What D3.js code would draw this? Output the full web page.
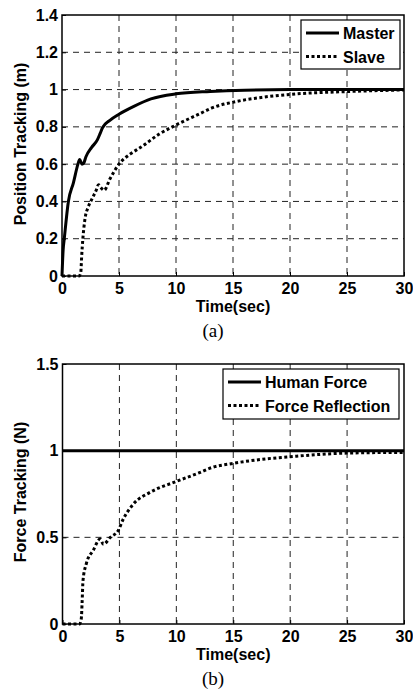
<!DOCTYPE html>
<html>
<head>
<meta charset="utf-8">
<script src="https://cdn.jsdelivr.net/npm/d3@7"></script>
<style>
body { margin: 0; background: #fff; }
</style>
</head>
<body>
<script>
// tick labels
var timeTicks = [0, 5, 10, 15, 20, 25, 30];
var posTicks = [0, 0.2, 0.4, 0.6, 0.8, 1, 1.2, 1.4];
var forceTicks = [0, 0.5, 1, 1.5];

// (a) position tracking
var masterT = [0, 0.1, 0.2, 0.56, 1.0, 1.4, 1.55, 1.75, 1.9, 2.1, 2.6, 3.1, 3.35, 3.55, 4.2, 5, 6.3, 7.8, 10, 13, 16, 20, 30];
var masterY = [0, 0.14, 0.2, 0.4, 0.5, 0.6, 0.625, 0.6, 0.605, 0.64, 0.69, 0.73, 0.765, 0.795, 0.835, 0.868, 0.91, 0.95, 0.977, 0.99, 0.997, 1.0, 1.0];
var slaveT = [0, 1.5, 1.65, 1.72, 1.83, 2.0, 2.3, 2.6, 3.0, 3.2, 3.4, 3.7, 4.2, 5, 6, 6.9, 8.5, 10, 12.25, 13.1, 15.2, 17.5, 20.2, 25.3, 30];
var slaveY = [0, 0, 0.02, 0.1, 0.2, 0.3, 0.37, 0.41, 0.46, 0.49, 0.475, 0.46, 0.52, 0.6, 0.655, 0.69, 0.76, 0.81, 0.875, 0.9, 0.935, 0.958, 0.975, 0.99, 0.998];

// (b) force tracking
var humanT = [0, 30];
var humanY = [1, 1];
var reflT = [0, 1.5, 1.65, 1.72, 1.8, 2.1, 2.7, 3.3, 3.6, 4.2, 4.9, 5.3, 6.2, 7.7, 9.9, 12.1, 13, 15, 17.5, 20, 25, 30];
var reflY = [0, 0, 0.03, 0.12, 0.25, 0.35, 0.425, 0.49, 0.46, 0.5, 0.54, 0.6, 0.69, 0.76, 0.82, 0.875, 0.9, 0.927, 0.95, 0.965, 0.986, 0.99];

var width = 413;
var height = 693;
var sans = "Liberation Sans, Arial, sans-serif";

var svg = d3.select("body").append("svg")
    .attr("width", width)
    .attr("height", height);

function zip(t, y) {
    return t.map(function(d, i) { return [d, y[i]]; });
}

function drawPanel(opt) {
    var x = d3.scaleLinear().domain([0, 30]).range([opt.left, opt.right]);
    var y = d3.scaleLinear().domain(opt.yDomain).range([opt.bottom, opt.top]);
    var g = svg.append("g");

    // grid
    g.selectAll("line.vgrid")
        .data(timeTicks.slice(1, -1))
        .enter()
        .append("line")
        .attr("x1", function(d) { return x(d); })
        .attr("x2", function(d) { return x(d); })
        .attr("y1", opt.top)
        .attr("y2", opt.bottom)
        .attr("stroke", "#222")
        .attr("stroke-width", 1)
        .attr("stroke-dasharray", "6,5");
    g.selectAll("line.hgrid")
        .data(opt.yTicks.slice(1, -1))
        .enter()
        .append("line")
        .attr("x1", opt.left)
        .attr("x2", opt.right)
        .attr("y1", function(d) { return y(d); })
        .attr("y2", function(d) { return y(d); })
        .attr("stroke", "#222")
        .attr("stroke-width", 1)
        .attr("stroke-dasharray", "6,5");

    // axes
    var xAxis = d3.axisBottom(x).tickValues(timeTicks).tickSize(-4).tickPadding(7).tickFormat(d3.format("d"));
    var yAxis = d3.axisLeft(y).tickValues(opt.yTicks).tickSize(-4).tickPadding(4).tickFormat(function(d) { return d; });
    var gx = g.append("g").attr("transform", "translate(0," + opt.bottom + ")").call(xAxis);
    var gy = g.append("g").attr("transform", "translate(" + opt.left + ",0)").call(yAxis);
    [gx, gy].forEach(function(a) {
        a.select(".domain").remove();
        a.selectAll("text").attr("font-size", "16px").attr("fill", "#000")
            .attr("font-family", sans).attr("font-weight", "bold");
        a.selectAll("line").attr("stroke", "#000");
    });

    // curves
    var line = d3.line()
        .x(function(d) { return x(d[0]); })
        .y(function(d) { return y(d[1]); })
        .curve(d3.curveMonotoneX);
    opt.series.forEach(function(s) {
        g.append("path")
            .datum(zip(s.t, s.y))
            .attr("d", line)
            .attr("fill", "none")
            .attr("stroke", "#000")
            .attr("stroke-width", 3)
            .attr("stroke-dasharray", s.dotted ? "3,2.5" : null);
    });

    // box
    g.append("rect")
        .attr("x", opt.left)
        .attr("y", opt.top)
        .attr("width", opt.right - opt.left)
        .attr("height", opt.bottom - opt.top)
        .attr("fill", "none")
        .attr("stroke", "#000")
        .attr("stroke-width", 1.5);

    // legend
    var lg = opt.legend;
    g.append("rect")
        .attr("x", lg.x)
        .attr("y", lg.y)
        .attr("width", lg.w)
        .attr("height", lg.h)
        .attr("fill", "#fff")
        .attr("stroke", "#000")
        .attr("stroke-width", 1.2);
    opt.series.forEach(function(s, i) {
        var ly = lg.y + 13 + i * 23.5;
        g.append("line")
            .attr("x1", lg.x + 5)
            .attr("x2", lg.x + 38)
            .attr("y1", ly)
            .attr("y2", ly)
            .attr("stroke", "#000")
            .attr("stroke-width", 3)
            .attr("stroke-dasharray", s.dotted ? "3,2.5" : null);
        g.append("text")
            .attr("x", lg.x + 42)
            .attr("y", ly + 6)
            .attr("font-size", "16px")
            .attr("font-family", sans)
            .attr("font-weight", "bold")
            .text(s.name);
    });

    // labels
    g.append("text")
        .attr("x", (opt.left + opt.right) / 2)
        .attr("y", opt.bottom + 36)
        .attr("text-anchor", "middle")
        .attr("font-size", "16px")
        .attr("font-family", sans)
        .attr("font-weight", "bold")
        .text("Time(sec)");
    g.append("text")
        .attr("transform", "translate(26," + opt.labelY + ") rotate(-90)")
        .attr("text-anchor", "middle")
        .attr("font-size", "16px")
        .attr("font-family", sans)
        .attr("font-weight", "bold")
        .text(opt.yLabel);
    g.append("text")
        .attr("x", 213)
        .attr("y", opt.bottom + 61)
        .attr("text-anchor", "middle")
        .attr("font-size", "19px")
        .attr("font-family", "Liberation Serif, Times New Roman, serif")
        .text(opt.caption);
}

drawPanel({
    left: 62, right: 404, top: 15, bottom: 276,
    yDomain: [0, 1.4], yTicks: posTicks,
    yLabel: "Position Tracking (m)", labelY: 144, caption: "(a)",
    legend: { x: 301, y: 20, w: 99, h: 49 },
    series: [
        { name: "Master", t: masterT, y: masterY, dotted: false },
        { name: "Slave", t: slaveT, y: slaveY, dotted: true }
    ]
});

drawPanel({
    left: 62.5, right: 404, top: 364, bottom: 624,
    yDomain: [0, 1.5], yTicks: forceTicks,
    yLabel: "Force Tracking (N)", labelY: 492, caption: "(b)",
    legend: { x: 223, y: 369, w: 176, h: 50 },
    series: [
        { name: "Human Force", t: humanT, y: humanY, dotted: false },
        { name: "Force Reflection", t: reflT, y: reflY, dotted: true }
    ]
});
</script>
</body>
</html>
